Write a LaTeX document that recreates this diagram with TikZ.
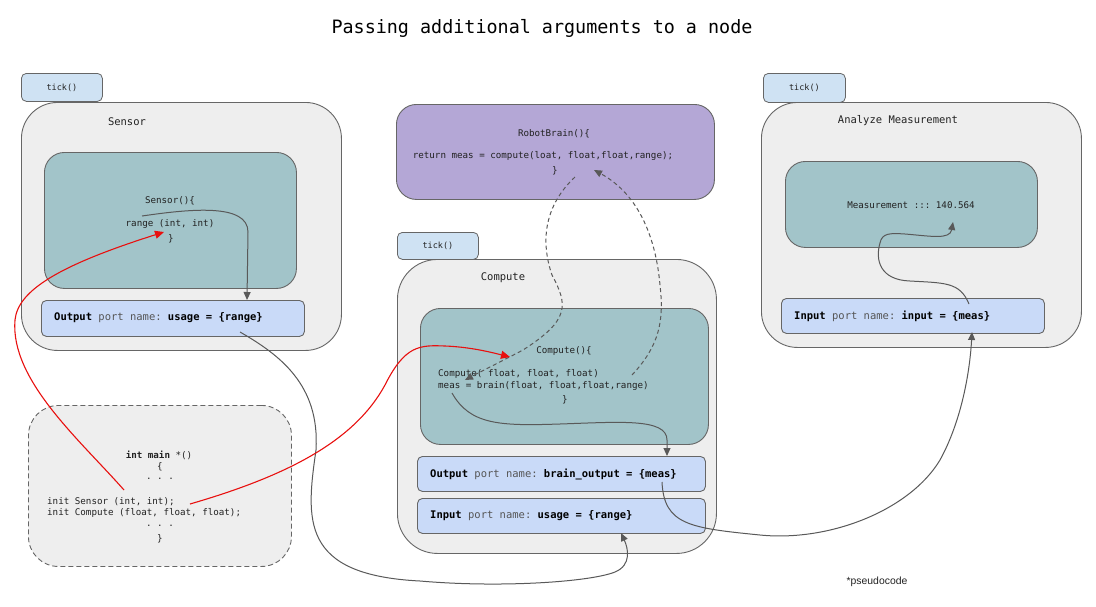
\documentclass[tikz,border=0pt]{standalone}
\usepackage{fontspec}
\setmainfont{Liberation Sans}
\setmonofont{DejaVu Sans Mono}
\usetikzlibrary{arrows.meta}
\definecolor{outerfill}{HTML}{EEEEEE}
\definecolor{edgegray}{HTML}{666666}
\definecolor{tealfill}{HTML}{A2C4C9}
\definecolor{portfill}{HTML}{C9DAF8}
\definecolor{tickfill}{HTML}{CFE2F3}
\definecolor{purplefill}{HTML}{B4A7D6}
\definecolor{linkgray}{HTML}{595959}
\definecolor{txtdark}{HTML}{222222}
\definecolor{txtgray}{HTML}{555555}
\definecolor{redlink}{HTML}{E8100F}
\tikzset{
  outerbox/.style={draw=edgegray, fill=outerfill, line width=0.9pt, rounded corners=36pt, anchor=north west, inner sep=0pt},
  tealbox/.style={draw=edgegray, fill=tealfill, line width=0.9pt, rounded corners=20pt, anchor=north west, inner sep=0pt},
  portbox/.style={draw=edgegray, fill=portfill, line width=0.9pt, rounded corners=5pt, anchor=north west, inner sep=0pt},
  tickbox/.style={draw=edgegray, fill=tickfill, line width=0.8pt, rounded corners=5pt, anchor=north west, inner sep=0pt, font=\ttfamily\fontsize{8.5}{10}\selectfont, text=txtdark},
  purplebox/.style={draw=edgegray, fill=purplefill, line width=0.9pt, rounded corners=20pt, anchor=north west, inner sep=0pt},
  mainbox/.style={draw=edgegray, fill=outerfill, line width=0.9pt, dashed, dash pattern=on 5pt off 3pt, rounded corners=30pt, anchor=north west, inner sep=0pt},
  code/.style={font=\ttfamily\fontsize{9.2}{11}\selectfont, text=txtdark, inner sep=0pt},
  codew/.style={code, anchor=west},
  label/.style={font=\ttfamily\fontsize{10.5}{12}\selectfont, text=txtdark, inner sep=0pt},
  porttxt/.style={font=\ttfamily\fontsize{10.5}{12}\selectfont, text=black, inner sep=0pt, anchor=west},
  link/.style={draw=linkgray, line width=1pt, -{Triangle[length=8pt,width=7pt]}},
  dlink/.style={link, dash pattern=on 4pt off 3pt},
  rlink/.style={draw=redlink, line width=1.1pt, -{Triangle[length=9pt,width=8pt]}},
}
\begin{document}
\begin{tikzpicture}[x=1pt,y=-1pt]
\useasboundingbox (0,0) rectangle (1096,606);
\fill[white] (0,0) rectangle (1096,606);

% title
\node[font=\ttfamily\fontsize{18.4}{22}\selectfont, text=black, inner sep=0pt] (title) at (542,28) {Passing additional arguments to a node};

% ---------- Sensor ----------
\node[outerbox, minimum width=320pt, minimum height=248pt] (sensor) at (21,102) {};
\node[tickbox, minimum width=81pt, minimum height=28pt] (sensortick) at (21,73) {tick()};
\node[label] (sensorlbl) at (127,122) {Sensor};
\node[tealbox, minimum width=252pt, minimum height=136pt] (sensorin) at (44,152) {};
\node[code] (sensorc1) at (170,201) {Sensor()\{};
\node[code] (sensorc2) at (170,224) {range (int, int)};
\node[code] (sensorc3) at (171,239) {\}};
\node[portbox, minimum width=263pt, minimum height=36pt] (sensorout) at (41,300) {};
\node[porttxt] (sensorouttxt) at (54,318) {\textbf{Output} {\color{txtgray}port name:} \textbf{usage = \{range\}}};

% ---------- RobotBrain ----------
\node[purplebox, minimum width=318pt, minimum height=95pt] (brain) at (396,104) {};
\node[code] (brainc1) at (554,134) {RobotBrain()\{};
\node[code] (brainc2) at (543,156) {return meas = compute(loat, float,float,range);};
\node[code] (brainc3) at (555,171) {\}};

% ---------- Compute ----------
\node[outerbox, minimum width=319pt, minimum height=294pt, rounded corners=40pt] (compute) at (397,259) {};
\node[tickbox, minimum width=81pt, minimum height=27pt] (computetick) at (397,232) {tick()};
\node[label] (computelbl) at (503,278) {Compute};
\node[tealbox, minimum width=288pt, minimum height=136pt] (computein) at (420,308) {};
\node[code] (computec1) at (564,351) {Compute()\{};
\node[codew] (computec2) at (438,374) {Compute( float, float, float)};
\node[codew] (computec3) at (438,386) {meas = brain(float, float,float,range)};
\node[code] (computec4) at (565,400) {\}};
\node[portbox, minimum width=288pt, minimum height=35pt] (computeout) at (417,456) {};
\node[porttxt] (computeouttxt) at (430,474) {\textbf{Output} {\color{txtgray}port name:} \textbf{brain\_output = \{meas\}}};
\node[portbox, minimum width=288pt, minimum height=35pt] (computeinp) at (417,498) {};
\node[porttxt] (computeinptxt) at (430,516) {\textbf{Input} {\color{txtgray}port name:} \textbf{usage = \{range\}}};

% ---------- Analyze ----------
\node[outerbox, minimum width=320pt, minimum height=245pt] (analyze) at (761,102) {};
\node[tickbox, minimum width=82pt, minimum height=29pt] (analyzetick) at (763,73) {tick()};
\node[label] (analyzelbl) at (898,121) {Analyze Measurement};
\node[tealbox, minimum width=252pt, minimum height=86pt] (analyzein) at (785,161) {};
\node[code] (analyzec1) at (911,205) {Measurement ::: 140.564};
\node[portbox, minimum width=263pt, minimum height=35pt] (analyzeinp) at (781,298) {};
\node[porttxt] (analyzeinptxt) at (794,316) {\textbf{Input} {\color{txtgray}port name:} \textbf{input = \{meas\}}};

% ---------- main ----------
\node[mainbox, minimum width=263pt, minimum height=161pt] (mainfn) at (28,405) {};
\node[code] (mainc1) at (159,455) {\textbf{int main} *()};
\node[code] (mainc2) at (160,467) {\{};
\node[code] (mainc3) at (160,479) {.\ .\ .};
\node[codew] (mainc4) at (47,502) {init Sensor (int, int);};
\node[codew] (mainc5) at (47,513) {init Compute (float, float, float);};
\node[code] (mainc6) at (160,526) {.\ .\ .};
\node[code] (mainc7) at (160,539) {\}};

\node[font=\fontsize{10.4}{12}\selectfont, text=txtdark, inner sep=0pt] (pseudo) at (877,582) {*pseudocode};

% ---------- connector end points ----------
\coordinate (sA) at (142,216);
\coordinate (sB) at (247,300);
\coordinate (r1a) at (124,490);
\coordinate (r1b) at (164,232);
\coordinate (r2a) at (190,504);
\coordinate (r2b) at (510,357);
\coordinate (o1a) at (240,332);
\coordinate (o1b) at (621,533);
\coordinate (cA) at (452,393);
\coordinate (cB) at (667,456);
\coordinate (o2a) at (662,482);
\coordinate (o2b) at (972,332);
\coordinate (aA) at (969,304);
\coordinate (aB) at (953,222);
\coordinate (d1a) at (575,177);
\coordinate (d1b) at (465,380);
\coordinate (d2a) at (632,375);
\coordinate (d2b) at (594,170);

% ---------- connectors ----------
\draw[link] (sA) .. controls (190,209) and (248,203) .. (248,232) -- (sB);
\draw[link] (cA) .. controls (470,425) and (500,426) .. (560,424) .. controls (620,422) and (667,418) .. (667,440) -- (cB);
\draw[link] (aA) .. controls (960,282) and (945,283) .. (910,281) .. controls (880,280) and (875,260) .. (880,243) .. controls (882,233) and (890,233) .. (905,234) .. controls (930,236) and (950,240) .. (aB);
\draw[link] (o1a) .. controls (280,355) and (320,385) .. (316,450) .. controls (306,520) and (300,575) .. (420,581) .. controls (500,588) and (590,582) .. (615,572) .. controls (632,565) and (628,548) .. (o1b);
\draw[link] (o2a) .. controls (664,525) and (690,528) .. (760,535) .. controls (830,542) and (910,510) .. (940,460) .. controls (962,420) and (970,370) .. (o2b);
\draw[dlink] (d1a) .. controls (545,205) and (540,240) .. (552,275) .. controls (568,305) and (570,320) .. (523,350) .. controls (500,362) and (480,372) .. (d1b);
\draw[dlink] (d2a) .. controls (660,345) and (664,320) .. (660,285) .. controls (656,240) and (640,195) .. (d2b);
\draw[rlink] (r1a) .. controls (80,440) and (10,380) .. (15,320) .. controls (18,290) and (60,265) .. (r1b);
\draw[rlink] (r2a) .. controls (290,475) and (355,440) .. (385,385) .. controls (405,345) and (420,345) .. (445,346) .. controls (470,347) and (490,352) .. (r2b);
\end{tikzpicture}
\end{document}
